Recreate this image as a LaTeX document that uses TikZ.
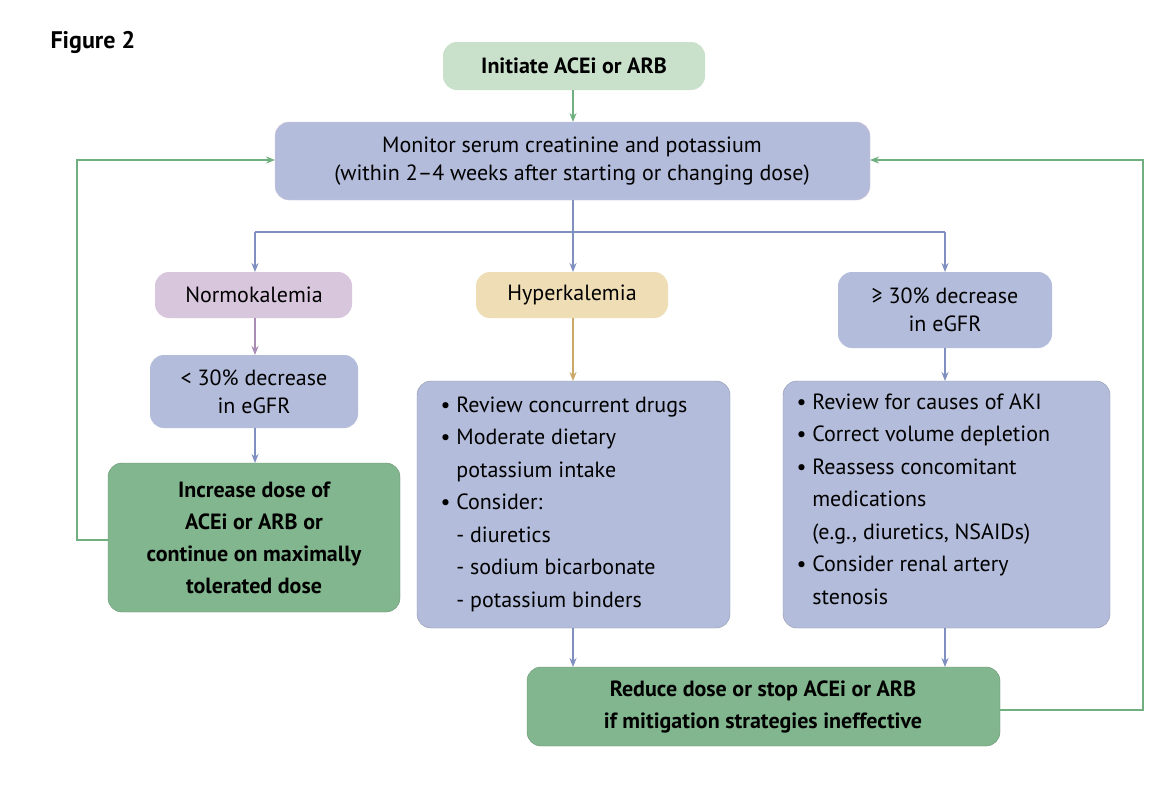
\documentclass[tikz,border=0pt]{standalone}
\usepackage{fontspec}
\setmainfont{PT Sans}
\usetikzlibrary{arrows.meta}
\definecolor{lg}{HTML}{C9E0CB}
\definecolor{dg}{HTML}{82B68E}
\definecolor{bl}{HTML}{B3BCDA}
\definecolor{pu}{HTML}{D8C6DD}
\definecolor{tn}{HTML}{EEDDB5}
\definecolor{ab}{HTML}{7F8FC0}
\definecolor{ag}{HTML}{6FAF80}
\definecolor{ap}{HTML}{A98CB5}
\definecolor{atan}{HTML}{C9A868}
\begin{document}
\begin{tikzpicture}[x=1pt,y=-1pt,
 box/.style={rounded corners=14pt,inner sep=0pt,font=\fontsize{22}{26}\selectfont},
 ar/.style={-{Stealth[length=9pt,width=7pt]},line width=1.6pt}]
\useasboundingbox (0,0) rectangle (1170,806);
\fill[white] (0,0) rectangle (1170,806);
\node[anchor=west,font=\fontsize{24}{28}\selectfont\bfseries] (fig) at (47,42) {Figure 2};
\path[box,fill=lg] (443,42) rectangle (705,90);
\node[font=\fontsize{22}{26}\selectfont\bfseries] (init) at (574,66) {Initiate ACEi or ARB};
\path[box,fill=bl,draw=pu] (275,122) rectangle (870,200);
\node[align=center,font=\fontsize{22}{28}\selectfont] (mon) at (572,161) {Monitor serum creatinine and potassium\\(within 2–4 weeks after starting or changing dose)};
\path[box,fill=pu] (155,272) rectangle (352,318);
\node[font=\fontsize{22}{26}\selectfont] (nor) at (254,295) {Normokalemia};
\path[box,fill=tn] (476,272) rectangle (668,318);
\node[font=\fontsize{22}{26}\selectfont] (hyp) at (572,295) {Hyperkalemia};
\path[box,fill=bl] (838,272) rectangle (1052,348);
\node[align=center,font=\fontsize{22}{28}\selectfont] (dec) at (945,310) {≥ 30\% decrease\\in eGFR};
\path[box,fill=bl] (150,355) rectangle (358,428);
\node[align=center,font=\fontsize{22}{28}\selectfont] (low) at (254,392) {< 30\% decrease\\in eGFR};
\path[box,fill=dg,draw=dg!80!black] (108,463) rectangle (400,612);
\node[align=center,font=\fontsize{22}{32}\selectfont\bfseries] (inc) at (254,538) {Increase dose of\\ACEi or ARB or\\continue on maximally\\tolerated dose};
\path[box,fill=bl,draw=bl!80!black] (417,381) rectangle (730,628);
\node[anchor=north west,align=left,font=\fontsize{22}{32.5}\selectfont] (mid) at (437,393) {• Review concurrent drugs\\• Moderate dietary\\\phantom{• }potassium intake\\• Consider:\\\phantom{• }- diuretics\\\phantom{• }- sodium bicarbonate\\\phantom{• }- potassium binders};
\path[box,fill=bl,draw=bl!80!black] (783,381) rectangle (1110,628);
\node[anchor=north west,align=left,font=\fontsize{22}{32.5}\selectfont] (rgt) at (793,390) {• Review for causes of AKI\\• Correct volume depletion\\• Reassess concomitant\\\phantom{• }medications\\\phantom{• }(e.g., diuretics, NSAIDs)\\• Consider renal artery\\\phantom{• }stenosis};
\path[box,fill=dg,draw=dg!80!black] (527,667) rectangle (1000,746);
\node[align=center,font=\fontsize{22}{32}\selectfont\bfseries] (red) at (763,707) {Reduce dose or stop ACEi or ARB\\if mitigation strategies ineffective};
\coordinate (lt) at (255,232); \coordinate (rt) at (945,232);
\draw[ar,ag] (573,90) -- (573,122);
\draw[line width=1.6pt,ab] (573,200) -- (573,232) (lt) -- (rt);
\draw[ar,ab] (lt) -- (255,272);
\draw[ar,ab] (573,232) -- (573,272);
\draw[ar,ab] (rt) -- (945,272);
\draw[ar,ap] (255,318) -- (255,355);
\draw[ar,ab] (255,428) -- (255,463);
\draw[ar,atan] (573,318) -- (573,381);
\draw[ar,ab] (945,348) -- (945,381);
\draw[ar,ab] (573,628) -- (573,667);
\draw[ar,ab] (945,628) -- (945,667);
\draw[ar,ag] (108,540) -- (77,540) -- (77,160) -- (275,160);
\draw[ar,ag] (1000,710) -- (1143,710) -- (1143,160) -- (870,160);
\end{tikzpicture}
\end{document}
